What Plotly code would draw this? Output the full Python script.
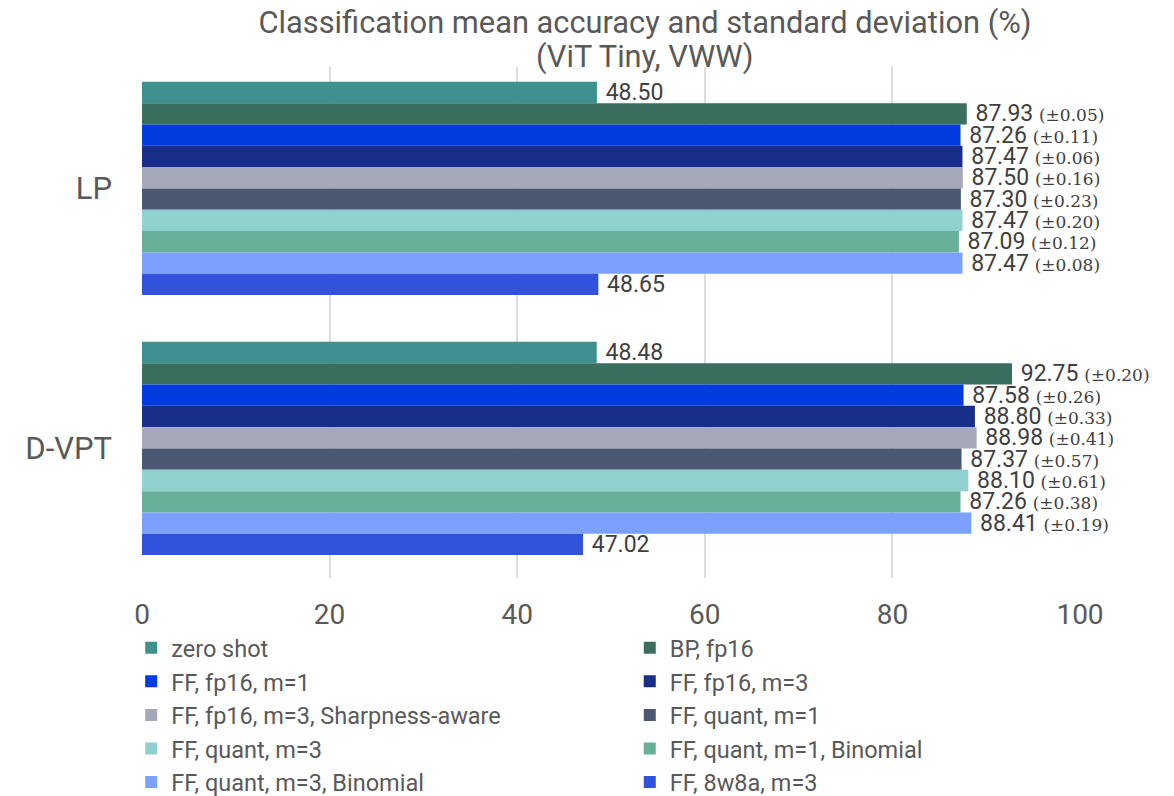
import plotly.graph_objects as go

categories = ["LP", "D-VPT"]
series_names = [
    "zero shot", "BP, fp16", "FF, fp16, m=1", "FF, fp16, m=3",
    "FF, fp16, m=3, Sharpness-aware", "FF, quant, m=1", "FF, quant, m=3",
    "FF, quant, m=1, Binomial", "FF, quant, m=3, Binomial", "FF, 8w8a, m=3",
]
lp_values = [48.50, 87.93, 87.26, 87.47, 87.50, 87.30, 87.47, 87.09, 87.47, 48.65]
dvpt_values = [48.48, 92.75, 87.58, 88.80, 88.98, 87.37, 88.10, 87.26, 88.41, 47.02]
lp_std = [None, 0.05, 0.11, 0.06, 0.16, 0.23, 0.20, 0.12, 0.08, None]
dvpt_std = [None, 0.20, 0.26, 0.33, 0.41, 0.57, 0.61, 0.38, 0.19, None]
colors = ["#3E918F", "#3A6E5E", "#023BE0", "#182E8A", "#A5A8B8",
          "#4A5872", "#90D0CE", "#68B09A", "#7BA0FD", "#3052DC"]
x_ticks = [0, 20, 40, 60, 80, 100]
title_line1 = "Classification mean accuracy and standard deviation (%)"
title_line2 = "(ViT Tiny, VWW)"


def label(v, s):
    t = "\u00a0" + f"{v:.2f}"
    if s is not None:
        t += ("\u00a0<span style=\"font-family:DejaVu Serif;font-size:17px\">"
              f"(±{s:.2f})</span>")
    return t


fig = go.Figure()
for i, name in enumerate(series_names):
    vals = [lp_values[i], dvpt_values[i]]
    stds = [lp_std[i], dvpt_std[i]]
    fig.add_trace(go.Bar(
        name=name,
        y=categories,
        x=vals,
        orientation="h",
        marker=dict(color=colors[i], line=dict(width=0)),
        text=[label(v, s) for v, s in zip(vals, stds)],
        textposition="outside",
        textfont=dict(family="Roboto", size=23, color="#404040"),
        constraintext="none",
        cliponaxis=False,
        legend="legend" if i % 2 == 0 else "legend2",
    ))

legend_common = dict(
    orientation="v", yanchor="top", xanchor="left",
    font=dict(family="Roboto", size=23.5, color="#595959"),
    traceorder="normal", tracegroupgap=0, bgcolor="rgba(0,0,0,0)",
)

fig.update_layout(
    width=1174, height=796,
    barmode="group",
    bargap=0.18,
    bargroupgap=0,
    plot_bgcolor="white",
    paper_bgcolor="white",
    font=dict(family="Roboto", color="#595959"),
    margin=dict(l=142, r=94, t=67, b=218, autoexpand=False),
    title=dict(
        text=title_line1,
        x=0.5494, xanchor="center", y=0.9724, yanchor="middle",
        font=dict(family="Roboto", size=30.8, color="#595959"),
    ),
    annotations=[dict(
        text=title_line2, xref="paper", yref="paper",
        x=0.5362, y=1.0196, xanchor="center", yanchor="middle",
        showarrow=False, font=dict(family="Roboto", size=30.8, color="#595959"),
    )],
    xaxis=dict(
        range=[0, 100], tickvals=x_ticks, showgrid=True,
        gridcolor="#DDDDDD", gridwidth=1.5, zeroline=False, showline=False,
        tickfont=dict(family="Roboto", size=28, color="#595959"),
        ticklabelstandoff=17,
    ),
    yaxis=dict(
        range=[1.498, -0.467], showgrid=False, zeroline=False, showline=False,
        tickfont=dict(family="Roboto", size=31, color="#595959"),
        ticklabelstandoff=29,
    ),
    legend=dict(x=-0.0115, y=-0.094, **legend_common),
    legend2=dict(x=0.520, y=-0.094, **legend_common),
    showlegend=True,
)

fig.write_html("out.html", config={"displayModeBar": False},
               post_script="document.body.style.margin='0';")
